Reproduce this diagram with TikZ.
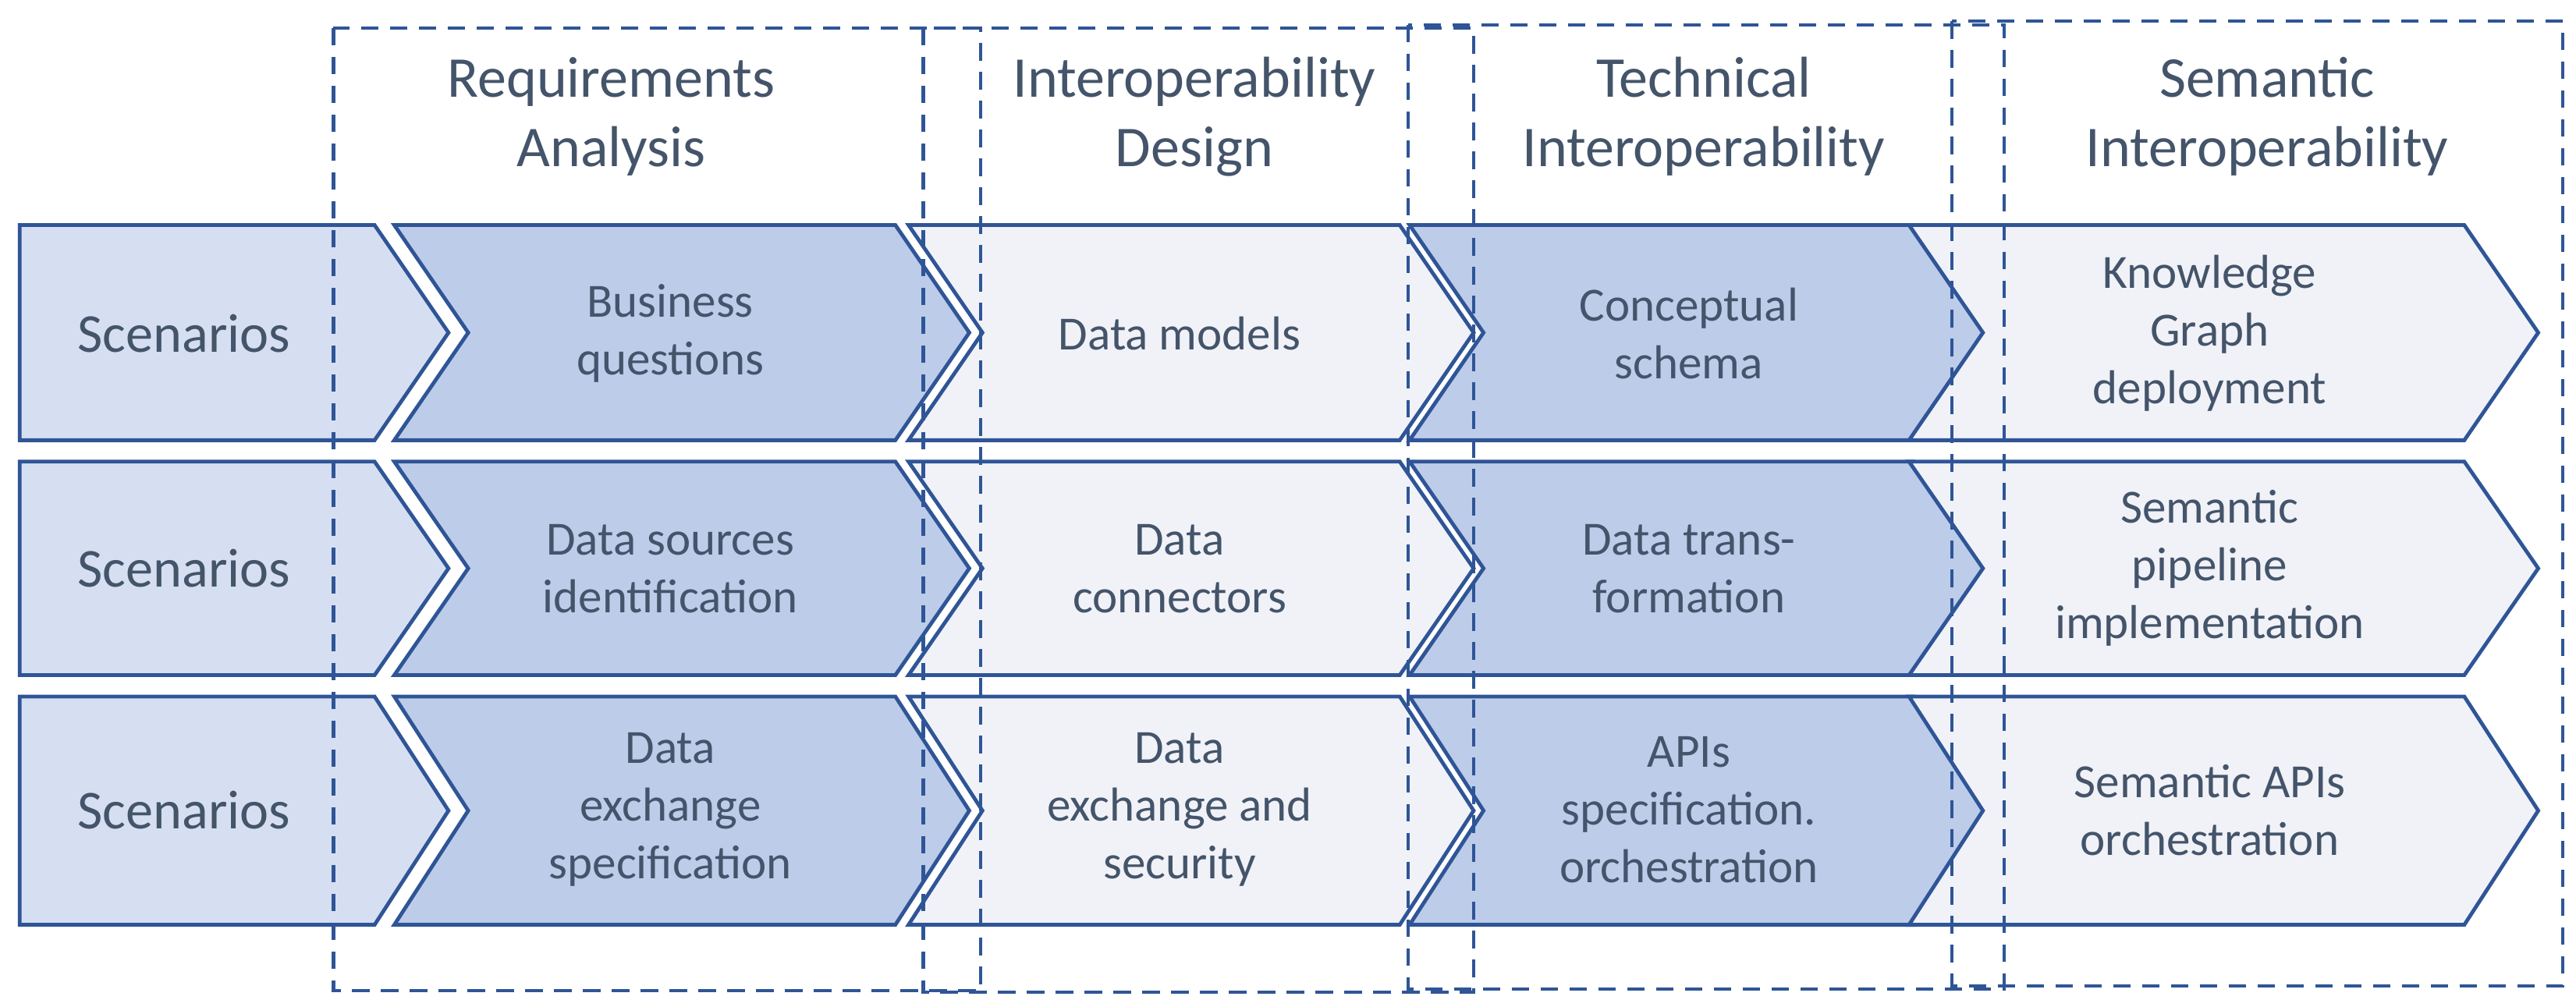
\documentclass[tikz,border=0pt]{standalone}
\usepackage{fontspec}
\setmainfont{Carlito}
\begin{document}
\definecolor{edge}{HTML}{2F5597}
\definecolor{txt}{HTML}{44546A}
\definecolor{fA}{HTML}{D6DFF1}
\definecolor{fB}{HTML}{BDCCE9}
\definecolor{fC}{HTML}{F0F2F7}
\begin{tikzpicture}[x=0.02cm,y=-0.02cm,
  chev/.style={draw=edge,line width=1.3pt,line join=miter},
  box/.style={draw=edge,line width=1.1pt,dash pattern=on 6pt off 4pt},
  ttl/.style={text=txt,font=\fontsize{20}{24}\selectfont,align=center},
  lbl/.style={text=txt,font=\fontsize{16.5}{20}\selectfont,align=center}]
\useasboundingbox (0,0) rectangle (1568,613);
\def\d{45}
% rows: top, bottom
\foreach \t/\b [count=\r] in {137/268,281/411,424/563}{
  \pgfmathsetmacro{\m}{(\t+\b)/2}
  \filldraw[chev,fill=fA] (12,\t) -- (228,\t) -- (273,\m) -- (228,\b) -- (12,\b) -- cycle;
  \foreach \L/\R/\F in {240/545/fB,553/852/fC,858/1165/fB,1162/1500/fC}{
    \filldraw[chev,fill=\F] (\L,\t) -- (\R,\t) -- ({\R+\d},\m) -- (\R,\b) -- (\L,\b) -- ({\L+\d},\m) -- cycle;
  }
}
% row labels
\node[text=txt,font=\fontsize{19}{23}\selectfont] (s1) at (112,203) {Scenarios};
\node[text=txt,font=\fontsize{19}{23}\selectfont] (s2) at (112,346) {Scenarios};
\node[text=txt,font=\fontsize{19}{23}\selectfont] (s3) at (112,493) {Scenarios};
\node[lbl] (a1) at (408,203) {Business\\questions};
\node[lbl] (a2) at (408,346) {Data sources\\identification};
\node[lbl] (a3) at (408,493) {Data\\exchange\\specification};
\node[lbl] (b1) at (718,203) {Data models};
\node[lbl] (b2) at (718,346) {Data\\connectors};
\node[lbl] (b3) at (718,493) {Data\\exchange and\\security};
\node[lbl] (c1) at (1028,203) {Conceptual\\schema};
\node[lbl] (c2) at (1028,346) {Data trans-\\formation};
\node[lbl] (c3) at (1028,493) {APIs\\specification.\\orchestration};
\node[lbl] (e1) at (1345,203) {Knowledge\\Graph\\deployment};
\node[lbl] (e2) at (1345,346) {Semantic\\pipeline\\implementation};
\node[lbl] (e3) at (1345,493) {Semantic APIs\\orchestration};
% dashed boxes
\draw[box] (203,17) rectangle (597,603);
\draw[box] (562,17) rectangle (897,604);
\draw[box] (857,15) rectangle (1220,602);
\draw[box] (1188,13) rectangle (1560,600);
% titles
\node[ttl] (t1) at (372,71) {Requirements\\Analysis};
\node[ttl] (t2) at (727,71) {Interoperability\\Design};
\node[ttl] (t3) at (1037,71) {Technical\\Interoperability};
\node[ttl] (t4) at (1380,71) {Semantic\\Interoperability};
\end{tikzpicture}
\end{document}
